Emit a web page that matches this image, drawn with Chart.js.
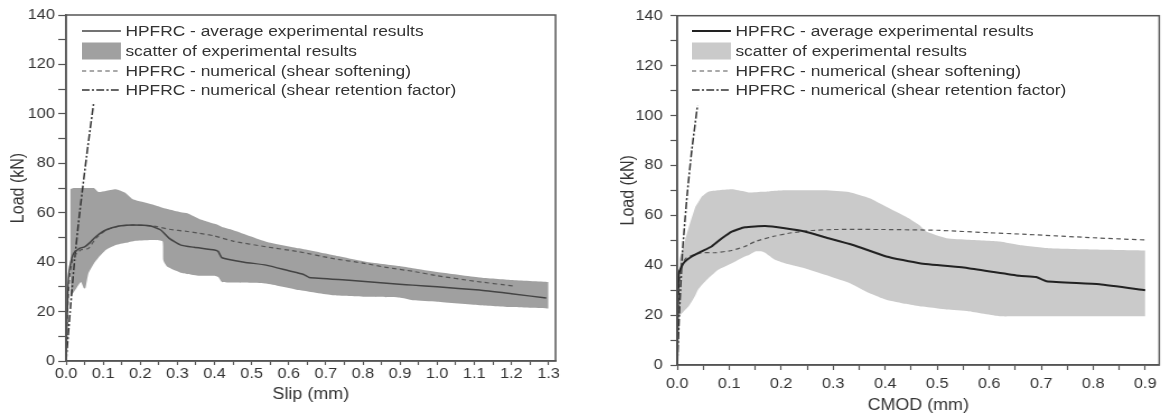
<!DOCTYPE html>
<html>
<head>
<meta charset="utf-8">
<script src="https://cdn.jsdelivr.net/npm/chart.js@4"></script>
<style>
  body { margin: 0; background: #fff; width: 1162px; height: 419px; overflow: hidden; }
  .panel { position: absolute; top: 0; height: 419px; transform: scaleX(1.12); transform-origin: 0 0; }
  .panel canvas { position: absolute; left: 0; top: 0; }
  .leg-row { position: absolute; height: 20px; display: flex; align-items: center;
             font: 15.5px "Liberation Sans", Arial, sans-serif; color: #333; white-space: nowrap; }
  .leg-row svg { display: block; margin-right: 4px; }
</style>
</head>
<body>
<div class="panel" id="panelSlip" style="left:0;width:513px">
  <canvas id="chartSlip" width="513" height="419"></canvas>
</div>
<div class="panel" id="panelCmod" style="left:610px;width:493px">
  <canvas id="chartCmod" width="493" height="419"></canvas>
</div>
<script>
// ---- left chart: load vs slip ----
const slipAvg = [0, 0.003, 0.006, 0.01, 0.02, 0.035, 0.05, 0.065, 0.08, 0.107, 0.143, 0.18, 0.228, 0.255, 0.278, 0.309, 0.345, 0.4, 0.41, 0.42, 0.48, 0.539, 0.6, 0.64, 0.655, 0.763, 0.898, 0.934, 1.0, 1.114, 1.2, 1.294];
const loadSlipAvg = [0, 18, 32, 38, 43.5, 45.5, 46.2, 48, 50.3, 53, 54.6, 55, 54.6, 53, 49.6, 46.9, 46, 44.9, 44.3, 41.8, 40, 38.8, 36.5, 35, 33.8, 32.7, 31.1, 30.7, 30, 28.7, 27.2, 25.5];

const slipSoft = [0, 0.004, 0.01, 0.02, 0.04, 0.06, 0.08, 0.107, 0.143, 0.18, 0.237, 0.278, 0.327, 0.359, 0.4, 0.45, 0.539, 0.628, 0.718, 0.8, 0.862, 0.934, 1.0, 1.1, 1.204];
const loadSlipSoft = [0, 20, 35, 42, 45, 45.5, 49.6, 53, 54.6, 55, 54.6, 53.3, 52.4, 51.7, 50.6, 48.5, 46.2, 44.2, 41.5, 39.6, 37.9, 36.3, 34.5, 32.3, 30.4];

const slipRet = [0, 0.012, 0.023, 0.035, 0.057, 0.074];
const loadSlipRet = [0, 22, 41, 58, 85, 104];

const slipBand = [0.011, 0.02, 0.04, 0.048, 0.052, 0.06, 0.075, 0.087, 0.107, 0.134, 0.16, 0.18, 0.188, 0.237, 0.26, 0.262, 0.273, 0.309, 0.327, 0.359, 0.4, 0.41, 0.42, 0.449, 0.539, 0.628, 0.718, 0.808, 0.898, 0.934, 1.0, 1.114, 1.2, 1.3];
const loadSlipMax = [69.5, 70, 70, 70, 70, 70, 70, 68.4, 68.8, 69.5, 68, 65.4, 65, 63.1, 62, 61.9, 61.5, 60.2, 59.8, 57.5, 55.5, 55, 54.2, 53, 48.3, 45.6, 42.9, 40.2, 38.4, 37.5, 36, 33.8, 32.8, 32];
const loadSlipMin = [26, 27.7, 32, 29.4, 29.4, 35.4, 39.5, 41.8, 44.9, 46.9, 47.8, 48.5, 48.7, 49, 48.5, 40.8, 38.1, 35.7, 35.2, 34.5, 34.5, 34, 32, 31.8, 31.4, 28.7, 26.6, 26, 25.7, 24.6, 24, 22.6, 21.8, 21.2];

// ---- right chart: load vs CMOD ----
const cmodAvg = [0, 0.001, 0.003, 0.012, 0.028, 0.047, 0.066, 0.086, 0.105, 0.13, 0.169, 0.207, 0.245, 0.284, 0.338, 0.402, 0.466, 0.56, 0.658, 0.69, 0.71, 0.812, 0.9];
const loadCmodAvg = [0, 20, 36.8, 40.8, 43.5, 45.5, 47.5, 50.8, 53.5, 55.2, 55.7, 54.8, 53.5, 51.2, 48.1, 43.5, 40.8, 38.8, 35.8, 35.3, 33.6, 32.4, 30];

const cmodSoft = [0, 0.003, 0.008, 0.018, 0.047, 0.073, 0.105, 0.13, 0.15, 0.188, 0.22, 0.258, 0.3, 0.4, 0.5, 0.6, 0.658, 0.8, 0.9];
const loadCmodSoft = [0, 30, 40, 43, 45, 45, 45.9, 47.5, 49.5, 51.7, 53, 53.9, 54.3, 54.3, 54, 53, 52.5, 51, 50.1];

const cmodRet = [0, 0.004, 0.01, 0.019, 0.028, 0.039];
const loadCmodRet = [0, 20, 45, 68, 86, 104];

const cmodBand = [0.004, 0.015, 0.022, 0.035, 0.04, 0.047, 0.06, 0.079, 0.105, 0.13, 0.137, 0.15, 0.163, 0.169, 0.188, 0.207, 0.245, 0.284, 0.33, 0.37, 0.402, 0.44, 0.466, 0.479, 0.518, 0.56, 0.62, 0.658, 0.716, 0.8, 0.9];
const loadCmodMax = [42, 50, 55, 63.4, 65, 67.4, 69.4, 70, 70.4, 69.5, 69.1, 69.2, 69.4, 69.4, 69.8, 70, 70, 70, 69.3, 66.8, 63.4, 59.4, 56, 53.5, 50.8, 50.2, 49.5, 48.1, 46.8, 46.3, 45.9];
const loadCmodMin = [19.5, 22, 23.5, 28, 30.2, 32, 34.8, 38.2, 40.8, 43.5, 44, 45.5, 45.5, 45, 42.2, 40.8, 38.8, 36.2, 33, 28.8, 26.2, 24.5, 23.5, 23.2, 22.2, 21.5, 19.5, 19.5, 19.5, 19.5, 19.5];

const legendLabels = [
  'HPFRC - average experimental results',
  'scatter of experimental results',
  'HPFRC - numerical (shear softening)',
  'HPFRC - numerical (shear retention factor)'
];

const FONT = '"Liberation Sans", Arial, sans-serif';

function pts(xs, ys) {
  return xs.map((x, i) => ({ x: x, y: ys[i] }));
}

const framePlugin = {
  id: 'frame',
  afterDatasetsDraw(chart) {
    const { ctx, chartArea: a } = chart;
    ctx.save();
    ctx.strokeStyle = '#555';
    ctx.lineWidth = 1.5;
    ctx.strokeRect(a.left, a.top, a.right - a.left, a.bottom - a.top);
    ctx.restore();
  }
};

function makeChart(canvasId, c) {
  const lines = [
    { data: pts(c.avgX, c.avgY), borderColor: c.avgColor, borderWidth: c.avgWidth, fill: false },
    { data: pts(c.softX, c.softY), borderColor: '#555', borderWidth: 1.2, borderDash: [4, 3], fill: false },
    { data: pts(c.retX, c.retY), borderColor: '#333', borderWidth: 1.5, borderDash: [7, 2, 2, 2], fill: false },
    { data: pts(c.bandX, c.bandMax), borderWidth: 0, borderColor: 'rgba(0,0,0,0)', backgroundColor: c.bandColor, fill: '+1' },
    { data: pts(c.bandX, c.bandMin), borderWidth: 0, borderColor: 'rgba(0,0,0,0)', fill: false }
  ];
  lines.forEach(d => { d.pointRadius = 0; d.tension = 0.15; });

  return new Chart(document.getElementById(canvasId), {
    type: 'line',
    data: { datasets: lines },
    plugins: [framePlugin],
    options: {
      responsive: false,
      animation: false,
      events: [],
      layout: { padding: { top: 15, right: c.padRight, left: 0, bottom: 0 } },
      plugins: { legend: { display: false }, tooltip: { enabled: false } },
      scales: {
        x: {
          type: 'linear',
          min: 0,
          max: c.xMax,
          grid: { drawOnChartArea: false, tickLength: c.xTickLen, tickColor: '#555', tickWidth: 1.2 },
          border: { color: '#555', width: 1.5 },
          ticks: {
            stepSize: 0.05,
            includeBounds: false,
            autoSkip: false,
            maxRotation: 0,
            padding: c.xTickPad,
            color: '#333',
            font: { family: FONT, size: 14.5 },
            callback: v => Math.abs(v * 10 - Math.round(v * 10)) < 1e-6 ? v.toFixed(1) : ''
          },
          title: { display: true, text: c.xTitle, color: '#333', font: { family: FONT, size: 16 },
                   padding: { top: 0, bottom: c.xTitlePad } },
          afterFit: s => { s.height = c.xAxisHeight; }
        },
        y: {
          min: 0,
          max: 140,
          grid: { drawOnChartArea: false, tickLength: c.yTickLen, tickColor: '#555', tickWidth: 1.2 },
          border: { color: '#555', width: 1.5 },
          ticks: {
            stepSize: 10,
            autoSkip: false,
            padding: c.yTickPad,
            color: '#333',
            font: { family: FONT, size: 14.5 },
            callback: v => v % 20 === 0 ? v : ''
          },
          title: { display: true, text: 'Load (kN)', color: '#333', font: { family: FONT, size: 16 },
                   padding: { top: c.yTitlePad, bottom: 0 } },
          afterFit: s => { s.width = c.yAxisWidth; }
        }
      }
    }
  });
}

function addLegend(panelId, bandColor, avgColor, avgWidth) {
  const panel = document.getElementById(panelId);
  const samples = [
    '<line x1="0" y1="10" x2="35" y2="10" stroke="' + avgColor + '" stroke-width="' + avgWidth + '"/>',
    '<rect x="0" y="1.5" width="35" height="17" fill="' + bandColor + '"/>',
    '<line x1="0" y1="10" x2="35" y2="10" stroke="#555" stroke-width="1.2" stroke-dasharray="4 3"/>',
    '<line x1="0" y1="10" x2="35" y2="10" stroke="#333" stroke-width="1.5" stroke-dasharray="7 2 2 2"/>'
  ];
  const rowCenters = [30.5, 51, 71, 90];
  legendLabels.forEach((label, i) => {
    const row = document.createElement('div');
    row.className = 'leg-row';
    row.style.left = '73px';
    row.style.top = (rowCenters[i] - 10) + 'px';
    row.innerHTML = '<svg width="35" height="20">' + samples[i] + '</svg><span></span>';
    row.querySelector('span').textContent = label;
    panel.appendChild(row);
  });
}

makeChart('chartSlip', {
  avgX: slipAvg, avgY: loadSlipAvg, avgColor: '#444', avgWidth: 1.5,
  softX: slipSoft, softY: loadSlipSoft,
  retX: slipRet, retY: loadSlipRet,
  bandX: slipBand, bandMax: loadSlipMax, bandMin: loadSlipMin, bandColor: 'rgb(160,160,160)',
  xMax: 1.319, xTitle: 'Slip (mm)', padRight: 17,
  xAxisHeight: 58, xTickLen: 4, xTickPad: 0, xTitlePad: 15,
  yAxisWidth: 59, yTickLen: 7, yTickPad: 3, yTitlePad: 7
});
addLegend('panelSlip', 'rgb(160,160,160)', '#444', 1.5);

makeChart('chartCmod', {
  avgX: cmodAvg, avgY: loadCmodAvg, avgColor: '#222', avgWidth: 2,
  softX: cmodSoft, softY: loadCmodSoft,
  retX: cmodRet, retY: loadCmodRet,
  bandX: cmodBand, bandMax: loadCmodMax, bandMin: loadCmodMin, bandColor: 'rgb(202,202,202)',
  xMax: 0.927, xTitle: 'CMOD (mm)', padRight: 2,
  xAxisHeight: 54, xTickLen: 5, xTickPad: 5, xTitlePad: 4,
  yAxisWidth: 60, yTickLen: 6, yTickPad: 7, yTitlePad: 7
});
addLegend('panelCmod', 'rgb(202,202,202)', '#222', 2);
</script>
</body>
</html>
